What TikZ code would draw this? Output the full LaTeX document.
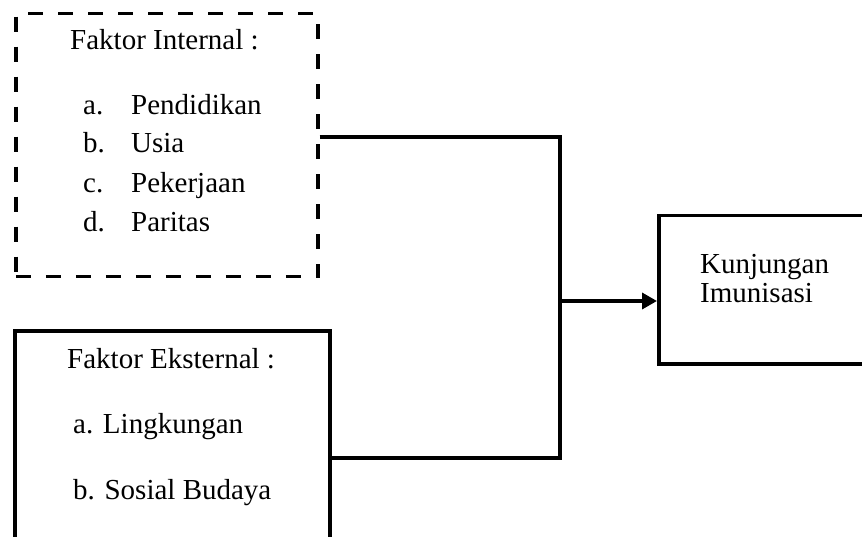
\documentclass[tikz,border=0pt]{standalone}
\usepackage{fontspec}
\setmainfont{Liberation Serif}
\usetikzlibrary{arrows.meta}

\tikzset{
  boxline/.style={draw=black, line width=3.5pt, rectangle, inner sep=0pt, anchor=north west},
  dashbox/.style={boxline, dash pattern=on 15pt off 15pt},
  txt/.style={anchor=base west, inner sep=0pt, font=\fontsize{29}{34}\selectfont},
  link/.style={draw=black, line width=3.5pt},
}

\begin{document}
\begin{tikzpicture}[x=1pt, y=-1pt]
  \useasboundingbox (0,0) rectangle (862,537);
  \clip (0,0) rectangle (862,537);

  % frames
  \node[dashbox, minimum width=302pt, minimum height=263pt] (intbox) at (14,12) {};
  \node[boxline, minimum width=315pt, minimum height=240pt] (extbox) at (13,329) {};
  \node[boxline, minimum width=240pt, minimum height=148pt] (outbox) at (657,214) {};

  % internal factors
  \node[txt] (inttitle) at (70,50) {Faktor Internal :};
  \node[txt] (ia) at (83,115) {a.};
  \node[txt] (iat) at (131,115) {Pendidikan};
  \node[txt] (ib) at (83,153) {b.};
  \node[txt] (ibt) at (131,153) {Usia};
  \node[txt] (ic) at (83,193) {c.};
  \node[txt] (ict) at (131,193) {Pekerjaan};
  \node[txt] (id) at (83,232) {d.};
  \node[txt] (idt) at (131,232) {Paritas};

  % external factors
  \node[txt] (exttitle) at (67,368) {Faktor Eksternal :};
  \node[txt] (ea) at (73,433) {a. Lingkungan};
  \node[txt] (eb) at (73,499) {b. Sosial Budaya};

  % outcome
  \node[txt] (out1) at (700,274) {Kunjungan};
  \node[txt] (out2) at (700,303) {Imunisasi};

  % junction points
  \coordinate (jtop) at (560,137);
  \coordinate (jbot) at (560,458);
  \coordinate (jmid) at (560,301);

  \draw[link, line join=miter] (intbox.east |- jtop) -- (jtop) -- (jbot) -- (extbox.east |- jbot);
  \draw[link, -{Triangle[length=15pt, width=16pt]}] (jmid) -- (outbox.west |- jmid);
\end{tikzpicture}
\end{document}
